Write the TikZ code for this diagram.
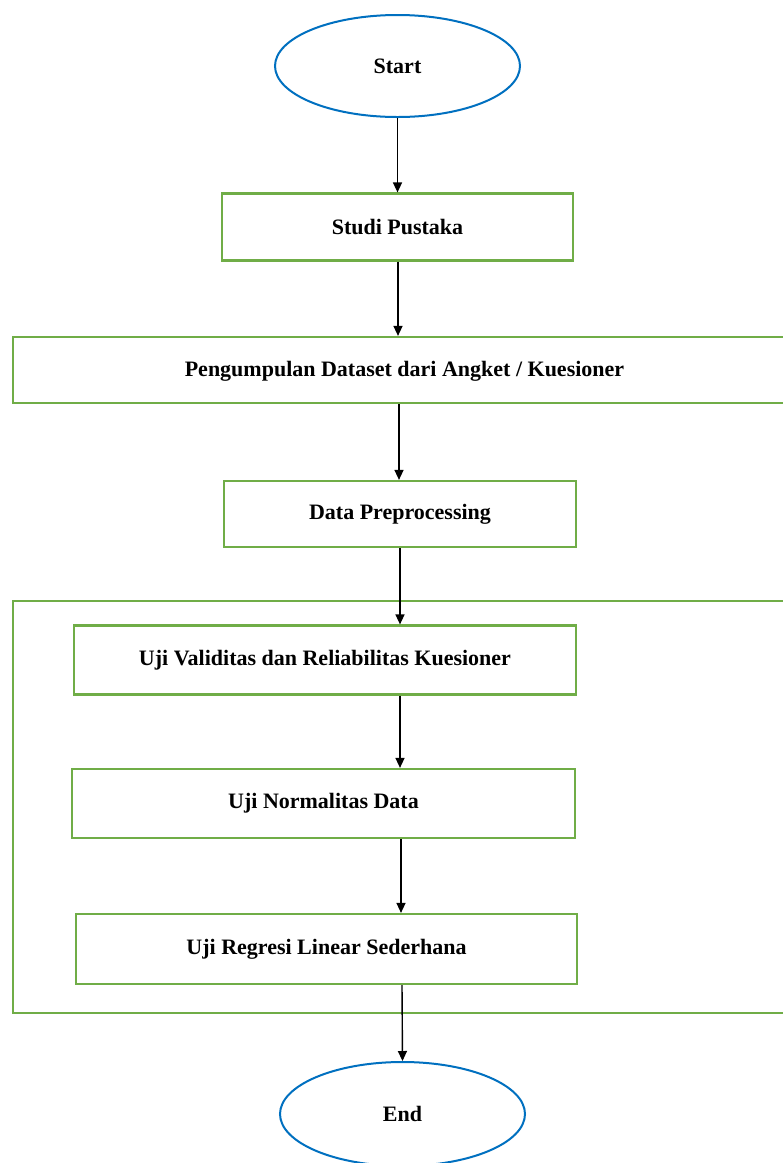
\documentclass[tikz,border=0pt]{standalone}
\usepackage{fontspec}
\setmainfont{Liberation Serif}
\usetikzlibrary{shapes.geometric,arrows.meta}
\definecolor{boxgreen}{HTML}{70AD47}
\definecolor{ovalblue}{HTML}{0070C0}
\tikzset{
  lbl/.style={font=\bfseries\fontsize{22}{26}\selectfont},
  stepbox/.style={draw=boxgreen, line width=2.2pt, rectangle, inner sep=0pt, lbl},
  term/.style={draw=ovalblue, line width=2pt, ellipse, inner sep=0pt, minimum width=245pt, minimum height=102pt, lbl},
  flow/.style={-{Triangle[length=10pt,width=9pt]}, line width=1.4pt, black},
}
\begin{document}
\begin{tikzpicture}[x=1pt,y=-1pt]
\clip (0,0) rectangle (783,1163);
\fill[white] (0,0) rectangle (783,1163);
% container
\node[stepbox, minimum width=790pt, minimum height=412pt, anchor=north west] (cont) at (12,600) {};
\node[term] (start) at (397.5,66) {Start};
\node[stepbox, minimum width=351pt, minimum height=67pt] (studi) at (397.5,227) {Studi Pustaka};
\node[stepbox, minimum width=790pt, minimum height=66pt, anchor=west] (kump) at (12,370) {};
\node[lbl] (kumpt) at (404.5,371) {Pengumpulan Dataset dari Angket / Kuesioner};
\node[stepbox, minimum width=352pt, minimum height=66pt] (prep) at (400,514) {Data Preprocessing};
\node[stepbox, minimum width=502pt, minimum height=69pt] (valid) at (325,660) {Uji Validitas dan Reliabilitas Kuesioner};
\node[stepbox, minimum width=503pt, minimum height=69pt] (norm) at (323.5,803.5) {Uji Normalitas Data};
\node[stepbox, minimum width=501pt, minimum height=70pt] (reg) at (326.5,949) {Uji Regresi Linear Sederhana};
\node[term, minimum height=104pt] (end) at (402.5,1114) {End};
\draw[flow] (start.south) -- (studi.north);
\draw[flow] (studi.south -| 398,0) -- (kump.north -| 398,0);
\draw[flow] (kump.south -| 399,0) -- (prep.north -| 399,0);
\draw[flow] (prep.south -| 400,0) -- (valid.north -| 400,0);
\draw[flow] (valid.south -| 400,0) -- (norm.north -| 400,0);
\draw[flow] (norm.south -| 401,0) -- (reg.north -| 401,0);
\draw[flow] (reg.south -| 402,0) -- (end.north);
\end{tikzpicture}
\end{document}
